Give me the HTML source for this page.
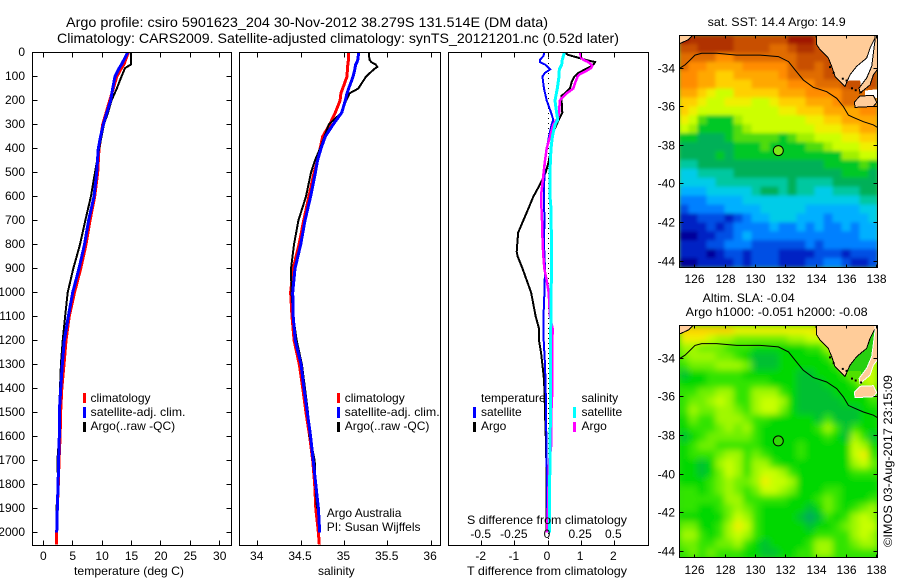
<!DOCTYPE html>
<html>
<head>
<meta charset="utf-8">
<title>Argo profile csiro 5901623_204</title>
<style>
html,body{margin:0;padding:0;background:#fff;}
svg{display:block;}
text{font-family:"Liberation Sans",sans-serif;font-size:12px;fill:#000;}
.title{font-size:14px;}
</style>
</head>
<body>
<svg id="chart" width="900" height="580" viewBox="0 0 900 580" xmlns="http://www.w3.org/2000/svg">
<defs>
<clipPath id="clip-sst"><rect x="679.5" y="35.5" width="198" height="232"/></clipPath>
<clipPath id="clip-sla"><rect x="679.5" y="325.5" width="198" height="232"/></clipPath>
<clipPath id="clip-p1"><rect x="32.5" y="52.5" width="199" height="493"/></clipPath>
<clipPath id="clip-p2"><rect x="239.5" y="52.5" width="201" height="493"/></clipPath>
<clipPath id="clip-p3"><rect x="448.5" y="52.5" width="200" height="493"/></clipPath>
<filter id="soft-sst" filterUnits="userSpaceOnUse" x="660" y="20" width="240" height="270"><feGaussianBlur stdDeviation="1.8"/></filter>
<filter id="soft-sla" filterUnits="userSpaceOnUse" x="660" y="310" width="240" height="270"><feGaussianBlur stdDeviation="3.5"/></filter>
</defs>

<text class="title" x="66" y="27" textLength="482" lengthAdjust="spacingAndGlyphs">Argo profile: csiro 5901623_204 30-Nov-2012 38.279S 131.514E (DM data)</text>
<text class="title" x="57" y="43" textLength="562" lengthAdjust="spacingAndGlyphs">Climatology: CARS2009. Satellite-adjusted climatology: synTS_20121201.nc (0.52d later)</text>

<g id="p1"></g>
<g id="p2"></g>
<g id="p3"></g>
<g id="m1"></g>
<g id="m2"></g>

<text x="74" y="575" textLength="110" lengthAdjust="spacingAndGlyphs">temperature (deg C)</text>
<text x="318" y="575">salinity</text>
<text x="467" y="575" textLength="160" lengthAdjust="spacingAndGlyphs">T difference from climatology</text>
<text x="467" y="524" textLength="160" lengthAdjust="spacingAndGlyphs">S difference from climatology</text>

<g>
<rect x="83" y="393" width="3" height="10" fill="#ff0000"/>
<text x="90.5" y="402">climatology</text>
<rect x="83" y="407" width="3" height="11" fill="#0000ff"/>
<text x="90.5" y="416" textLength="95" lengthAdjust="spacingAndGlyphs">satellite-adj. clim.</text>
<rect x="83" y="422" width="3" height="10" fill="#000"/>
<text x="90.5" y="430">Argo(..raw -QC)</text>
</g>
<g>
<rect x="337" y="393" width="3" height="10" fill="#ff0000"/>
<text x="344.7" y="402">climatology</text>
<rect x="337" y="407" width="3" height="11" fill="#0000ff"/>
<text x="344.7" y="416" textLength="95" lengthAdjust="spacingAndGlyphs">satellite-adj. clim.</text>
<rect x="337" y="422" width="3" height="10" fill="#000"/>
<text x="344.7" y="430">Argo(..raw -QC)</text>
</g>
<text x="326.7" y="517">Argo Australia</text>
<text x="326.7" y="531">PI: Susan Wijffels</text>

<g>
<text x="481" y="402">temperature</text>
<rect x="473" y="407" width="3" height="11" fill="#0000ff"/>
<text x="481" y="416">satellite</text>
<rect x="473" y="422" width="3" height="10" fill="#000"/>
<text x="481" y="430">Argo</text>
<text x="581.5" y="402">salinity</text>
<rect x="573" y="407" width="3" height="11" fill="#00ffff"/>
<text x="581.5" y="416">satellite</text>
<rect x="573" y="422" width="3" height="10" fill="#ff00ff"/>
<text x="581.5" y="430">Argo</text>
</g>

<text x="707.7" y="26" textLength="138" lengthAdjust="spacingAndGlyphs">sat. SST: 14.4 Argo: 14.9</text>
<text x="702.7" y="302" textLength="92" lengthAdjust="spacingAndGlyphs">Altim. SLA: -0.04</text>
<text x="685.7" y="316" textLength="182" lengthAdjust="spacingAndGlyphs">Argo h1000: -0.051 h2000: -0.08</text>
<text transform="translate(892,547) rotate(-90)" textLength="172" lengthAdjust="spacingAndGlyphs">©IMOS 03-Aug-2017 23:15:09</text>
</svg>

<script>
// ---------- temperature panel data ----------
const tempDepths = [0,50,65,100,150,200,250,300,350,400,500,600,700,800,900,1000,1100,1200,1300,1400,1500,1600,1700,1800,1900,2000,2050];
const tempClim = [14.46,13.7,13.3,12.5,11.9,11.3,10.7,10.1,9.8,9.47,9.25,8.74,7.94,7.26,6.36,5.3,4.4,3.86,3.52,3.15,2.95,2.85,2.67,2.55,2.38,2.28,2.28];
const tempSat = [14.35,13.3,12.9,12.2,11.8,11.46,10.8,10.2,9.75,9.36,9.08,8.62,7.7,7.0,6.07,5.0,4.26,3.57,3.23,2.96,2.72,2.72,2.6,2.52,2.38,2.28];
const tempArgo = [14.9,14.9,13.9,13.3,12.5,11.6,11.0,10.3,9.9,9.5,8.8,8.1,7.15,6.24,5.1,4.15,3.7,3.3,3.0,2.84,2.68,2.68,2.4,2.52,2.25,2.25];
const tempTicks = [0,5,10,15,20,25,30];
const depthTicks = [0,100,200,300,400,500,600,700,800,900,1000,1100,1200,1300,1400,1500,1600,1700,1800,1900,2000];

// ---------- salinity panel data ----------
const salDepths = [0,30,40,50,60,70,100,150,170,200,250,300,350,400,450,500,600,700,800,900,1000,1100,1200,1300,1400,1500,1600,1700,1800,1900,2000,2050];
const salClim = [35.05,35.05,35.04,35.04,35.035,35.035,35.03,34.98,34.96,34.95,34.895,34.83,34.75,34.72,34.69,34.65,34.59,34.53,34.476,34.41,34.38,34.396,34.42,34.48,34.52,34.557,34.6,34.634,34.657,34.67,34.70,34.71];
const salSat = [35.165,35.155,35.145,35.13,35.125,35.12,35.1,35.05,35.03,35.01,34.97,34.87,34.78,34.73,34.69,34.665,34.61,34.545,34.496,34.43,34.404,34.41,34.434,34.5,34.534,34.572,34.61,34.64,34.67,34.70,34.715];
const salArgo = [35.28,35.29,35.31,35.36,35.38,35.34,35.25,35.16,35.06,35.02,34.97,34.82,34.77,34.72,34.66,34.615,34.557,34.47,34.419,34.384,34.39,34.41,34.45,34.51,34.545,34.58,34.6,34.657,34.665,34.684];
const salTicks = [34,34.5,35,35.5,36];

// ---------- difference panel data ----------
const diffTSatDepths = [0,15,30,40,50,60,70,85,100,150,200,250,280,300,350,400,450,500,600,700,800,900,1000,1050,1100,1150,1200,1300,1400,1500,1800,2000];
const diffTSat = [-.11,-.14,-.24,-.24,-.09,-.01,.07,-.09,-.17,-.12,-.04,.09,.16,.11,.03,-.04,-.09,-.11,-.12,-.11,-.12,-.09,-.11,-.12,-.14,-.14,-.13,-.09,-.07,-.06,-.03,-.03];
const diffTArgoDepths = [0,10,20,30,40,50,60,70,85,100,120,150,170,180,200,250,270,300,350,400,450,500,550,600,650,700,750,800,830,850,900,950,1000,1050,1100,1150,1200,1250,1300,1350,1400,1500,1630,1700,2000];
const diffTArgo = [.49,.61,.87,1.12,1.42,1.37,1.27,1.12,.92,.80,.72,.66,.51,.41,.41,.43,.36,.26,.11,.09,.03,-.07,-.24,-.44,-.59,-.745,-.9,-.93,-.945,-.915,-.77,-.64,-.51,-.44,-.37,-.27,-.27,-.21,-.17,-.13,-.11,-.09,-.06,-.05,-.04];
const diffSSatDepths = [0,30,50,70,100,150,200,250,280,300,350,400,450,500,600,650,700,800,900,1000,1100,1200,1400,1500,1600,1800,2000];
const diffSSat = [.123,.108,.103,.085,.083,.07,.053,.065,.073,.053,.033,.023,.018,.015,.015,.023,.023,.028,.028,.023,.023,.018,.02,.02,.015,.013,.01];
const diffSArgoDepths = [0,20,30,40,55,65,80,90,100,120,150,170,190,200,250,270,300,350,400,450,500,600,700,800,850,900,950,1000,1050,1100,1150,1200,1400,1500,1650,1700,1900,2000];
const diffSArgo = [.241,.249,.266,.304,.334,.324,.279,.241,.224,.209,.191,.141,.103,.09,.083,.078,.04,.015,-.01,-.023,-.033,-.053,-.045,-.04,-.035,-.028,-.01,.005,.01,.015,.035,.033,.033,.025,.023,.008,0,-.008];
const tDiffTicks = [-2,-1,0,1,2];
const sDiffTicks = [-0.5,-0.25,0,0.25,0.5];
const sDiffLabels = ['-0.5','-0.25','0','0.25','0.5'];

// ---------- map data (colour-level grids, rows north to south) ----------
const sstLevels = [
[19,18,18,18,18,18,17,17,17,17,17,17,19,19,19,17,17,17,17,17,17,17],
[17,17,18,18,18,18,17,17,17,17,16,16,17,18,18,17,17,17,17,17,17,17],
[16,16,16,16,15,15,16,16,16,16,16,16,16,17,17,17,17,17,17,17,17,17],
[16,15,15,14,14,14,14,15,15,15,15,15,16,17,17,16,17,17,17,17,17,17],
[15,15,14,14,13,13,14,14,14,14,14,15,16,16,16,16,17,17,17,17,17,17],
[15,15,14,14,13,13,13,13,14,14,14,14,15,15,15,16,16,16,17,17,17,17],
[14,14,13,12,11,11,13,13,13,13,13,14,14,14,15,15,15,15,16,16,16,16],
[13,13,12,11,11,12,12,12,11,11,12,13,13,13,14,14,14,15,16,16,16,16],
[13,12,11,11,11,11,11,11,11,11,11,12,12,13,13,13,14,14,14,14,15,15],
[12,11,9,8,8,8,10,11,11,11,11,11,11,11,12,12,13,13,14,14,14,14],
[11,10,8,8,8,8,9,10,11,11,11,11,11,11,11,12,12,12,13,13,14,14],
[8,8,7,7,7,8,9,9,9,9,9,8,9,10,10,11,11,11,12,12,13,13],
[7,7,7,7,7,7,8,8,8,9,8,8,8,8,9,9,10,11,11,11,12,12],
[7,7,7,7,8,7,8,8,8,8,8,8,8,8,8,8,8,8,10,10,11,11],
[6,6,7,7,7,7,7,7,7,7,7,7,7,7,7,7,8,8,8,8,9,8],
[5,5,6,6,6,6,7,7,7,7,7,7,7,7,7,7,7,7,8,8,8,7],
[5,5,5,5,6,6,6,6,6,6,6,6,7,6,6,6,6,7,7,7,7,7],
[4,4,4,5,5,5,5,5,6,7,7,6,7,6,6,5,5,6,6,6,7,7],
[3,3,3,4,4,4,4,5,5,5,5,5,5,5,5,5,5,5,5,5,6,6],
[2,3,3,3,3,4,4,4,4,5,5,5,5,5,4,4,4,4,4,4,5,5],
[1,1,2,2,2,1,2,3,4,4,5,5,5,4,4,4,3,4,4,4,4,5],
[1,1,1,2,1,2,3,3,3,3,4,3,3,4,3,4,3,3,4,3,4,4],
[0,0,1,1,2,2,3,4,3,3,3,3,3,3,3,3,3,3,3,3,4,4],
[1,1,1,2,2,3,3,3,2,2,2,2,2,2,3,2,3,3,3,3,3,3],
[1,1,1,0,1,2,2,1,2,2,2,1,1,1,1,2,2,2,1,2,2,2],
[0,0,1,1,1,1,2,1,2,2,2,1,1,1,2,2,3,3,2,1,1,2]
];
const slaLevels = [
[8,8,8,8,8,8,7,7,7,7,7,7,7,7,7,8,8,8,8,8,8,8],
[7,7,7,6,5,5,4,4,4,4,4,4,5,5,6,6,7,7,7,7,7,7],
[5,5,4,4,4,3,3,3,2,2,2,2,2,2,3,3,5,7,7,7,7,7],
[4,5,5,5,4,4,3,2,1,1,1,2,2,2,2,2,3,5,7,7,7,7],
[3,4,4,4,5,5,5,4,1,1,1,2,2,2,2,2,2,3,5,6,6,6],
[1,2,2,3,3,3,3,2,2,2,2,2,2,1,1,2,2,2,3,5,6,6],
[2,2,2,3,3,3,3,3,3,3,2,2,2,1,1,1,2,2,2,3,5,6],
[3,3,4,4,5,5,3,3,5,5,5,3,2,1,1,1,1,2,2,2,2,4],
[3,4,4,5,6,5,3,3,5,6,6,5,2,1,1,1,1,1,2,2,2,3],
[3,5,4,4,5,5,4,3,5,6,6,4,2,1,1,1,1,1,1,1,2,2],
[2,4,3,3,5,5,5,4,3,3,2,2,2,2,2,1,3,1,1,1,2,2],
[2,3,3,3,4,5,4,5,3,2,2,2,2,2,2,3,5,3,1,3,2,2],
[1,2,3,4,4,4,4,4,3,2,2,2,2,2,2,2,3,2,1,5,3,1],
[2,3,4,4,3,3,3,3,3,2,2,2,2,3,2,2,2,2,2,6,5,2],
[2,3,3,3,4,5,5,3,4,3,2,2,2,3,2,2,2,2,2,6,7,3],
[2,2,1,2,5,6,5,3,5,5,3,2,2,2,2,2,2,2,2,5,6,4],
[2,2,1,2,4,6,5,3,5,6,6,5,3,2,2,2,2,2,2,3,3,3],
[2,2,2,3,4,5,4,4,5,7,6,6,5,2,2,2,2,2,2,2,2,2],
[3,3,2,3,4,5,4,3,4,6,6,5,4,2,2,2,3,3,2,2,2,2],
[3,3,3,3,3,5,5,3,3,3,3,3,2,2,2,3,4,3,2,2,2,3],
[3,3,2,2,3,4,5,4,3,2,2,2,2,2,1,2,4,3,2,3,4,5],
[2,2,2,2,2,4,6,5,3,2,2,2,2,1,0,1,3,2,3,5,6,5],
[4,4,2,2,3,5,7,6,3,2,2,2,2,2,1,2,2,3,4,5,6,6],
[5,5,3,2,3,5,6,5,3,2,2,2,2,2,2,3,3,3,3,5,6,5],
[4,4,3,3,4,4,5,3,2,1,2,2,2,2,3,5,5,3,3,4,5,5],
[3,4,3,4,3,3,3,2,2,1,1,2,2,3,3,5,5,3,3,3,3,3]
];
const lonTicks = [126,128,130,132,134,136,138];
const latTicks = [-34,-36,-38,-40,-42,-44];
const floatLon = 131.514;
const floatLat = -38.279;
const shelfLon = [124.99,125.36,125.69,126.02,126.46,127.45,128.77,130.31,131.52,132.18,132.62,133.16,133.82,134.70,135.36,135.80,136.13,136.46,137.12,137.78,138.04];
const shelfLat = [-34.02,-33.84,-33.59,-33.33,-33.24,-33.24,-33.33,-33.33,-33.41,-33.67,-34.10,-34.62,-35.0,-35.23,-35.57,-36.0,-36.44,-36.56,-36.78,-36.95,-37.07];
const mainlandLon = [134.0,134.04,134.26,134.81,135.03,135.25,135.69,135.91,136.24,136.68,137.34,137.56,137.89,137.89];
const mainlandLat = [-32.29,-32.79,-33.05,-33.48,-33.91,-34.43,-34.78,-34.95,-34.35,-33.91,-33.48,-32.96,-32.44,-32.29];
const cornerLon = [125,125.9,125.6,125];
const cornerLat = [-32.29,-32.29,-32.53,-32.74];
const eastLon = [137.89,138.04,138.04,137.78,137.56,136.9,136.84,137.34,137.67,137.78,137.89];
const eastLat = [-32.29,-32.29,-34.09,-34.35,-34.87,-35.3,-35.04,-34.52,-33.91,-33.22,-32.53];
const gulfLon = [135.91,136.24,136.68,137.34,137.56,137.89,137.89,137.78,137.67,137.34,136.95,136.91,136.14,135.95];
const gulfLat = [-34.95,-34.35,-33.91,-33.48,-32.96,-32.44,-32.53,-33.22,-33.91,-34.52,-34.95,-34.66,-34.66,-34.85];
const gulfPatchLon = [136.14,136.91,136.91,136.14];
const gulfPatchLat = [-34.66,-34.66,-35.1,-35.1];
const vincentLon = [137.24,138.04,138.04,137.6,137.24];
const vincentLat = [-35.17,-35.1,-35.57,-35.45,-35.48];
const kangarooLon = [136.53,136.9,137.78,138,137.78,136.57];
const kangarooLat = [-35.76,-35.45,-35.42,-35.78,-35.99,-36.04];
const isletLon = [134.85,135.7,135.95,136.55,136.9,135.1,136.3];
const isletLat = [-33.9,-34.5,-34.6,-35.1,-35.2,-34.2,-35.0];

// ---------- styling ----------
const sstPalette = ['#00009a','#0020c4','#0050e4','#0080ff','#00b0ff','#00cce8','#00c8a0','#00b058','#00c828','#50dc08','#a0f000','#ccff00','#f0f000','#ffd000','#ffa800','#ff8c00','#e06c00','#c85000','#b03000','#a01800'];
const slaPalette = ['#00a860','#00c030','#00d800','#30e400','#70f000','#a0f800','#c8ff00','#f0f000','#ffd000'];
const LAND = '#ffcc99';
const NS = 'http://www.w3.org/2000/svg';

function mk(parent, tag, attrs) {
  const el = document.createElementNS(NS, tag);
  for (const k in attrs) el.setAttribute(k, attrs[k]);
  parent.appendChild(el);
  return el;
}

const yDepth = d => 52.5 + d * 0.24;
const xTemp = t => 43.3 + t * 5.88;
const xSal = s => 257.7 + (s - 34) * 86.7;
const xTDiff = t => 548 + t * 33.15;
const xSDiff = s => 548 + s * 132.6;
const xLon = lon => 694.7 + (lon - 126) * 15.17;
const ySst = lat => 68 + (-34 - lat) * 19.3;
const ySla = lat => 358.3 + (-34 - lat) * 19.3;

function drawLine(parent, clipId, xf, depths, vals, color, width, name) {
  const pts = vals.map((v, i) => xf(v).toFixed(1) + ',' + yDepth(depths[i]).toFixed(1)).join(' ');
  const el = mk(parent, 'polyline', {points: pts, fill: 'none', stroke: color, 'stroke-width': width, 'clip-path': 'url(#' + clipId + ')', 'shape-rendering': 'crispEdges', 'stroke-linejoin': 'miter'});
  
  
}

function drawFrame(parent, x0, x1, y0, y1, name) {
  const el = mk(parent, 'rect', {x: x0, y: y0, width: x1 - x0, height: y1 - y0, fill: 'none', stroke: '#000', 'stroke-width': 1, 'shape-rendering': 'crispEdges'});
  
  
}

function tick(parent, x1, y1, x2, y2) {
  const el = mk(parent, 'line', {x1: x1, y1: y1, x2: x2, y2: y2, stroke: '#000', 'stroke-width': 1, 'shape-rendering': 'crispEdges'});
  
  
}

function label(parent, x, y, str, anchor) {
  const el = mk(parent, 'text', {x: x, y: y, 'text-anchor': anchor});
  el.textContent = str;
  
  
}

// ---------- temperature panel ----------
const p1 = document.getElementById('p1');
drawLine(p1, 'clip-p1', xTemp, tempDepths, tempClim, '#ff0000', 3, 'temperature-climatology-line');
drawLine(p1, 'clip-p1', xTemp, tempDepths, tempArgo, '#000000', 2, 'temperature-argo-line');
drawLine(p1, 'clip-p1', xTemp, tempDepths, tempSat, '#0000ff', 3, 'temperature-satellite-line');
drawFrame(p1, 32.5, 231.5, 52.5, 545.5, 'temperature-plot-frame');
tempTicks.forEach(t => {
  const x = Math.floor(xTemp(t)) + 0.5;
  tick(p1, x, 52.5, x, 57.5);
  tick(p1, x, 540.5, x, 545.5);
  label(p1, xTemp(t), 560, String(t), 'middle');
});
depthTicks.forEach(d => {
  const y = Math.floor(yDepth(d)) + 0.5;
  tick(p1, 32.5, y, 37.5, y);
  tick(p1, 226.5, y, 231.5, y);
  label(p1, 25, y + 3.5, String(d), 'end');
});

// ---------- salinity panel ----------
const p2 = document.getElementById('p2');
drawLine(p2, 'clip-p2', xSal, salDepths, salClim, '#ff0000', 3, 'salinity-climatology-line');
drawLine(p2, 'clip-p2', xSal, salDepths, salArgo, '#000000', 2, 'salinity-argo-line');
drawLine(p2, 'clip-p2', xSal, salDepths, salSat, '#0000ff', 3, 'salinity-satellite-line');
drawFrame(p2, 239.5, 440.5, 52.5, 545.5, 'salinity-plot-frame');
salTicks.forEach(s => {
  const x = Math.floor(xSal(s)) + 0.5;
  tick(p2, x, 52.5, x, 57.5);
  tick(p2, x, 540.5, x, 545.5);
  label(p2, xSal(s) - 1, 560, String(s), 'middle');
});

// ---------- difference panel ----------
const p3 = document.getElementById('p3');
const zero = mk(p3, 'line', {x1: 548.5, y1: 53, x2: 548.5, y2: 545, stroke: '#000', 'stroke-width': 1, 'stroke-dasharray': '1 4', 'shape-rendering': 'crispEdges'});


drawLine(p3, 'clip-p3', xTDiff, diffTArgoDepths, diffTArgo, '#000000', 2, 't-difference-argo-line');
drawLine(p3, 'clip-p3', xTDiff, diffTSatDepths, diffTSat, '#0000ff', 2, 't-difference-satellite-line');
drawLine(p3, 'clip-p3', xSDiff, diffSArgoDepths, diffSArgo, '#ff00ff', 2.5, 's-difference-argo-line');
drawLine(p3, 'clip-p3', xSDiff, diffSSatDepths, diffSSat, '#00ffff', 3, 's-difference-satellite-line');
drawFrame(p3, 448.5, 648.5, 52.5, 545.5, 'difference-plot-frame');
tDiffTicks.forEach(t => {
  const x = Math.floor(xTDiff(t)) + 0.5;
  tick(p3, x, 52.5, x, 57.5);
  tick(p3, x, 540.5, x, 545.5);
  label(p3, xTDiff(t) - 1, 560, String(t), 'middle');
});
sDiffTicks.forEach((s, i) => {
  label(p3, xSDiff(s) - 1, 538, sDiffLabels[i], 'middle');
});

// ---------- maps ----------
function poly(parent, lons, lats, yf, fill, stroke, name) {
  const pts = lons.map((lon, i) => xLon(lon).toFixed(1) + ',' + yf(lats[i]).toFixed(1)).join(' ');
  const el = mk(parent, 'polygon', {points: pts, fill: fill, stroke: stroke || 'none', 'stroke-width': 1, 'shape-rendering': 'crispEdges'});
  
  
}

function drawMap(root, clipId, filterId, levels, palette, yf, y0, y1, bg, isSst, labelY, circleFill) {
  const clip = mk(root, 'g', {'clip-path': 'url(#' + clipId + ')'});
  
  
  const backdrop = mk(clip, 'rect', {x: 679, y: y0 - 1, width: 200, height: 235, fill: bg});
  
  
  const grid = mk(clip, 'g', {filter: 'url(#' + filterId + ')'});
  
  
  const lonStep = 198 / 15.17 / 22;
  const latStep = 232 / 19.3 / 26;
  const lonStart = 126 + (679.5 - 694.7) / 15.17;
  const latStart = -32.29;
  levels.forEach((row, r) => {
    row.forEach((lv, c) => {
      const lon = lonStart + c * lonStep;
      const lat = latStart - r * latStep;
      const cell = mk(grid, 'rect', {x: xLon(lon).toFixed(2), y: yf(lat).toFixed(2), width: (lonStep * 15.17 + 0.5).toFixed(2), height: (latStep * 19.3 + 0.5).toFixed(2), fill: palette[lv]});
      
      
    });
  });
  if (isSst) {
    poly(clip, gulfLon, gulfLat, yf, '#ffffff', null, 'spencer-gulf');
    poly(clip, gulfPatchLon, gulfPatchLat, yf, '#c85000', null, 'gulf-sst-patch');
    poly(clip, vincentLon, vincentLat, yf, '#ffffff', null, 'gulf-st-vincent');
  } else {
    poly(clip, gulfLon, gulfLat, yf, '#28d010', null, 'spencer-gulf');
    poly(clip, gulfPatchLon, gulfPatchLat, yf, '#50e000', null, 'gulf-sla-patch');
  }
  poly(clip, mainlandLon, mainlandLat, yf, LAND, '#000', 'mainland');
  poly(clip, cornerLon, cornerLat, yf, LAND, '#000', 'northwest-land');
  poly(clip, eastLon, eastLat, yf, LAND, isSst ? '#000' : '#fff', 'yorke-peninsula');
  poly(clip, kangarooLon, kangarooLat, yf, LAND, isSst ? '#000' : '#fff', 'kangaroo-island');
  isletLon.forEach((lon, i) => {
    const dot = mk(clip, 'rect', {x: xLon(lon).toFixed(1), y: yf(isletLat[i]).toFixed(1), width: 2, height: 2, fill: '#000'});
    
    
  });
  const shelf = mk(clip, 'polyline', {points: shelfLon.map((lon, i) => xLon(lon).toFixed(1) + ',' + yf(shelfLat[i]).toFixed(1)).join(' '), fill: 'none', stroke: '#000', 'stroke-width': 1});
  
  
  const marker = mk(root, 'circle', {cx: xLon(floatLon).toFixed(1), cy: yf(floatLat).toFixed(1), r: 5, fill: circleFill, stroke: '#000', 'stroke-width': 1});
  
  
  drawFrame(root, 679.5, 877.5, y0, y1, 'map-frame');
  lonTicks.forEach(lon => {
    const x = Math.floor(xLon(lon)) + 0.5;
    tick(root, x, y0, x, y0 + 3);
    tick(root, x, y1 - 3, x, y1);
    label(root, x, labelY, String(lon), 'middle');
  });
  latTicks.forEach(lat => {
    const y = Math.floor(yf(lat)) + 0.5;
    tick(root, 679.5, y, 683.5, y);
    tick(root, 873.5, y, 877.5, y);
    label(root, 675, y + 4, String(lat), 'end');
  });
}

drawMap(document.getElementById('m1'), 'clip-sst', 'soft-sst', sstLevels, sstPalette, ySst, 35.5, 267.5, '#60c040', true, 283, '#7de818');
drawMap(document.getElementById('m2'), 'clip-sla', 'soft-sla', slaLevels, slaPalette, ySla, 325.5, 557.5, '#30d810', false, 574, '#30d808');
</script>
</body>
</html>
